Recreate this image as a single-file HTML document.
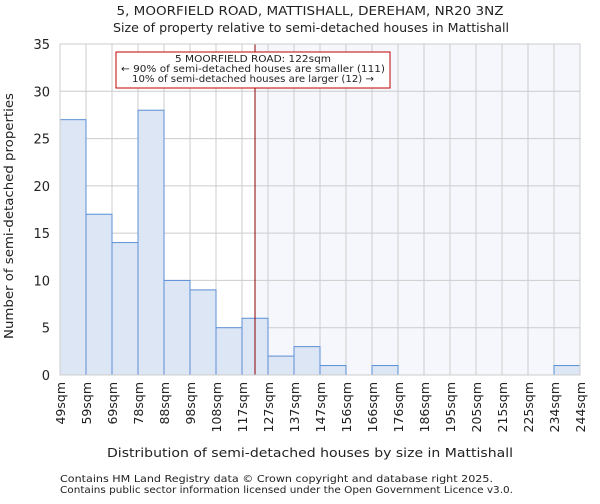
<!DOCTYPE html>
<html><head><meta charset="utf-8"><style>
body{margin:0;background:#fff;font-family:"DejaVu Sans","Liberation Sans",sans-serif;}
svg text{font-family:"DejaVu Sans","Liberation Sans",sans-serif;fill:#222;}
</style></head><body>
<svg id="chart" width="600" height="500" xmlns="http://www.w3.org/2000/svg">
<text x="310" y="15" text-anchor="middle" font-size="12" textLength="387" lengthAdjust="spacingAndGlyphs">5, MOORFIELD ROAD, MATTISHALL, DEREHAM, NR20 3NZ</text>
<text x="311" y="32" text-anchor="middle" font-size="12" textLength="396" lengthAdjust="spacingAndGlyphs">Size of property relative to semi-detached houses in Mattishall</text>
<g id="plot"></g>
<text x="310" y="457" text-anchor="middle" font-size="12" textLength="406" lengthAdjust="spacingAndGlyphs">Distribution of semi-detached houses by size in Mattishall</text>
<text transform="translate(13,216) rotate(-90)" text-anchor="middle" font-size="12" textLength="246" lengthAdjust="spacingAndGlyphs">Number of semi-detached properties</text>
<text x="60" y="482" font-size="10" fill="#444" textLength="433" lengthAdjust="spacingAndGlyphs">Contains HM Land Registry data © Crown copyright and database right 2025.</text>
<text x="60" y="493" font-size="10" fill="#444" textLength="453" lengthAdjust="spacingAndGlyphs">Contains public sector information licensed under the Open Government Licence v3.0.</text>
</svg>
<script>
const binLabels=["49sqm","59sqm","69sqm","78sqm","88sqm","98sqm","108sqm","117sqm","127sqm","137sqm","147sqm","156sqm","166sqm","176sqm","186sqm","195sqm","205sqm","215sqm","225sqm","234sqm","244sqm"];
const counts=[27,17,14,28,10,9,5,6,2,3,1,0,1,0,0,0,0,0,0,1];
const yTicks=[0,5,10,15,20,25,30,35];
const markerBinPos=7.5;
const NS="http://www.w3.org/2000/svg";
const L=60,R=580,T=44,B=375,yMax=35;
const bw=(R-L)/counts.length;
const xs=i=>L+i*bw;
const ys=v=>B-v*(B-T)/yMax;
const g=document.getElementById('plot');
function mk(tag,attrs){const e=document.createElementNS(NS,tag);for(const k in attrs)e.setAttribute(k,attrs[k]);g.appendChild(e);return e;}
const mx=xs(markerBinPos);
let e=mk('rect',{x:mx,y:T,width:R-mx,height:B-T,fill:'#f5f7fd'});


for(const t of yTicks){e=mk('line',{x1:L,x2:R,y1:ys(t),y2:ys(t),stroke:'#cccccc'});


e=mk('text',{x:L-10,y:ys(t)+5,'text-anchor':'end','font-size':13});e.textContent=t;

}
for(let i=0;i<=counts.length;i++){e=mk('line',{x1:xs(i),x2:xs(i),y1:T,y2:B,stroke:'#cccccc'});

}
counts.forEach((c,i)=>{if(c<=0)return;e=mk('rect',{x:xs(i),y:ys(c),width:bw,height:B-ys(c),fill:'#dce6f4',stroke:'#5b8fd6','stroke-width':1});

});
e=mk('line',{x1:mx,x2:mx,y1:T,y2:B,stroke:'#8b0000','stroke-width':1});


e=mk('rect',{x:L,y:T,width:R-L,height:B-T,fill:'none',stroke:'#cccccc'});


binLabels.forEach((lb,i)=>{e=mk('text',{transform:`translate(${xs(i)+5},382) rotate(-90)`,'text-anchor':'end','font-size':12.5});e.textContent=lb;

});
e=mk('rect',{x:116,y:52,width:274,height:36,fill:'#fff',stroke:'#c00000','stroke-width':1});


const ann=["5 MOORFIELD ROAD: 122sqm","← 90% of semi-detached houses are smaller (111)","10% of semi-detached houses are larger (12) →"];
const annW=[156,264,242];
ann.forEach((s,i)=>{e=mk('text',{x:253,y:62+i*10,'text-anchor':'middle','font-size':10,textLength:annW[i],lengthAdjust:'spacingAndGlyphs'});e.textContent=s;

});
</script>
</body></html>
